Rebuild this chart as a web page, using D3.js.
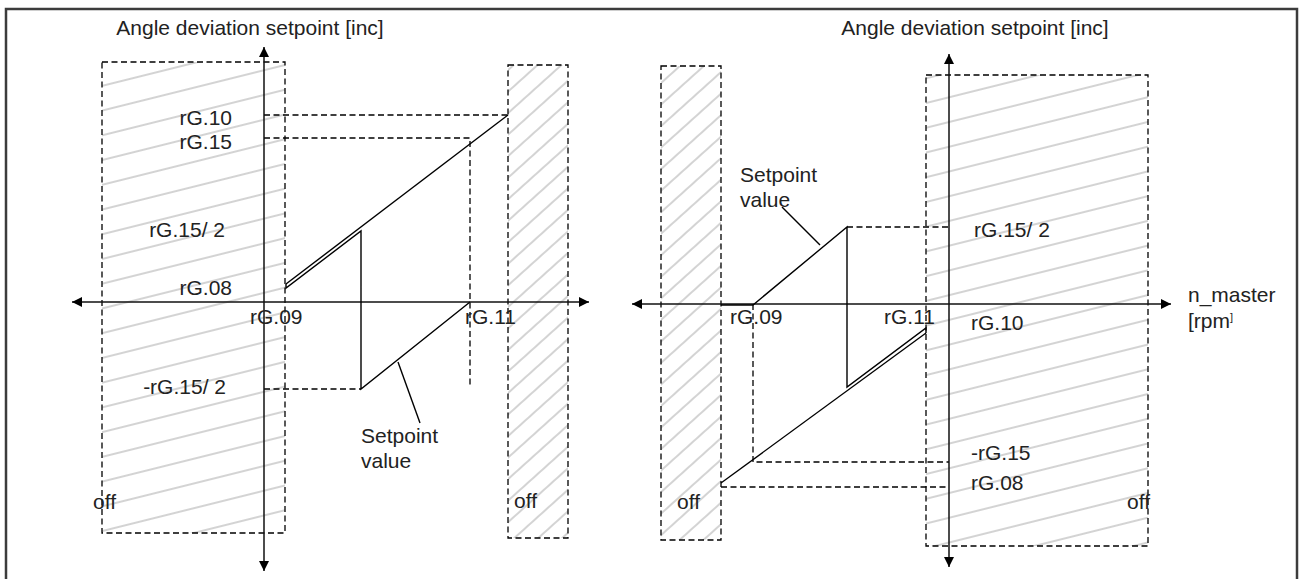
<!DOCTYPE html>
<html>
<head>
<meta charset="utf-8">
<script src="https://cdn.jsdelivr.net/npm/d3@7"></script>
<style>
  body { margin: 0; background: #fff; }
  svg text { font-family: "Liberation Sans", Arial, sans-serif; font-size: 21px; fill: #222; }
</style>
</head>
<body>
<svg id="chart" width="1301" height="579"></svg>
<script>
// all values in diagram units (1 unit ~ 10 px), measured from each panel's origin
const axisTitle = "Angle deviation setpoint [inc]";

// ---- left panel ----
const leftOrigin = [264, 302];
const leftAxisX = [-19.2, 32.5];
const leftAxisY = [-26.9, 25.5];
const leftOffZones = [
  { x: [-16.2, 2.1], y: [-23.1, 24.0], hatch: "flat" },
  { x: [24.4, 30.4], y: [-23.6, 23.7], hatch: "steep" }
];
const leftMainLine = [[2.2, 1.8], [24.4, 18.7]];
const leftSawLine = [[2.2, 1.8], [2.2, 1.4], [9.7, 7.1], [9.7, -8.7], [20.6, 0]];
const leftDashed = [
  [[0, 18.7], [24.4, 18.7]],
  [[0, 16.4], [20.6, 16.4], [20.6, -8.5]],
  [[0, -8.7], [9.7, -8.7]]
];
const leftLeader = [[13.4, -6.0], [15.6, -12.1]];
const leftLabels = [
  { t: "rG.10", x: -3.2, y: 17.7, a: "end" },
  { t: "rG.15", x: -3.2, y: 15.3, a: "end" },
  { t: "rG.15/ 2", x: -3.9, y: 6.5, a: "end" },
  { t: "rG.08", x: -3.2, y: 0.7, a: "end" },
  { t: "rG.09", x: -1.4, y: -2.2, a: "start" },
  { t: "rG.11", x: 20.1, y: -2.2, a: "start" },
  { t: "-rG.15/ 2", x: -3.8, y: -9.2, a: "end" },
  { t: "Setpoint", x: 9.7, y: -14.1, a: "start" },
  { t: "value", x: 9.7, y: -16.6, a: "start" },
  { t: "off", x: -17.1, y: -20.7, a: "start" },
  { t: "off", x: 25.0, y: -20.6, a: "start" },
  { t: axisTitle, x: -1.4, y: 26.7, a: "middle" }
];

// ---- right panel ----
const rightOrigin = [949, 304];
const rightAxisX = [-31.7, 22.2];
const rightAxisY = [-26.3, 25.0];
const rightOffZones = [
  { x: [-28.8, -22.8], y: [-23.6, 23.8], hatch: "steep" },
  { x: [-2.3, 19.9], y: [-24.2, 22.9], hatch: "flat" }
];
const rightMainLine = [[-22.8, -17.9], [-2.3, -2.9]];
const rightSawLine = [[-22.8, -0.1], [-19.6, -0.1], [-10.2, 7.7], [-10.2, -8.3], [-2.3, -2.4], [-2.3, -2.9]];
const rightDashed = [
  [[-10.2, 7.7], [0, 7.7]],
  [[-19.6, 0], [-19.6, -15.8], [0, -15.8]],
  [[-22.8, -18.3], [0, -18.3]]
];
const rightLeader = [[-16.7, 9.7], [-12.9, 5.9]];
const rightLabels = [
  { t: "rG.15/ 2", x: 2.5, y: 6.7, a: "start" },
  { t: "rG.09", x: -21.9, y: -2.0, a: "start" },
  { t: "rG.11", x: -6.5, y: -2.0, a: "start" },
  { t: "rG.10", x: 2.2, y: -2.6, a: "start" },
  { t: "-rG.15", x: 2.2, y: -15.6, a: "start" },
  { t: "rG.08", x: 2.2, y: -18.6, a: "start" },
  { t: "Setpoint", x: -20.9, y: 12.2, a: "start" },
  { t: "value", x: -20.9, y: 9.7, a: "start" },
  { t: "off", x: -27.2, y: -20.5, a: "start" },
  { t: "off", x: 20.1, y: -20.5, a: "end" },
  { t: "n_master", x: 23.9, y: 0.2, a: "start" },
  { t: axisTitle, x: 2.6, y: 26.9, a: "middle" }
];
const rpmLabel = { x: 23.9, y: -2.4 };

const svg = d3.select("#chart");
const defs = svg.append("defs");

// frame
svg.append("rect")
  .attr("x", 6).attr("y", 9)
  .attr("width", 1291).attr("height", 620)
  .attr("fill", "none")
  .attr("stroke", "#3c3c3c")
  .attr("stroke-width", 2.5);

// arrow head marker
defs.append("marker")
  .attr("id", "arrow")
  .attr("viewBox", "0 0 10 10")
  .attr("refX", 10).attr("refY", 5)
  .attr("markerWidth", 12).attr("markerHeight", 10)
  .attr("markerUnits", "userSpaceOnUse")
  .attr("orient", "auto-start-reverse")
  .append("path")
  .attr("d", "M0,0 L10,5 L0,10 Z")
  .attr("fill", "#000");

// hatch patterns
const hatches = { flat: { angle: -14, gap: 24 }, steep: { angle: -42, gap: 16 } };
Object.entries(hatches).forEach(([name, h]) => {
  const p = defs.append("pattern")
    .attr("id", "hatch-" + name)
    .attr("patternUnits", "userSpaceOnUse")
    .attr("width", 20).attr("height", h.gap)
    .attr("patternTransform", `rotate(${h.angle})`);
  p.append("line")
    .attr("x1", 0).attr("x2", 20)
    .attr("y1", h.gap / 2).attr("y2", h.gap / 2)
    .attr("stroke", "#a8a8a8")
    .attr("stroke-width", 1);
});

function drawPanel(origin, axX, axY, zones, mainLine, sawLine, dashed, leader, labels) {
  const x = d3.scaleLinear().domain([0, 10]).range([origin[0], origin[0] + 100]);
  const y = d3.scaleLinear().domain([0, 10]).range([origin[1], origin[1] - 100]);
  const line = d3.line().x(d => x(d[0])).y(d => y(d[1]));
  const g = svg.append("g");

  // off zones
  zones.forEach(z => {
    g.append("rect")
      .attr("x", x(z.x[0])).attr("y", y(z.y[1]))
      .attr("width", x(z.x[1]) - x(z.x[0]))
      .attr("height", y(z.y[0]) - y(z.y[1]))
      .attr("fill", `url(#hatch-${z.hatch})`)
      .attr("stroke", "#000")
      .attr("stroke-width", 1.3)
      .attr("stroke-dasharray", "6,3.5");
  });

  // helper dashed lines
  dashed.forEach(d => {
    g.append("path")
      .attr("d", line(d))
      .attr("fill", "none")
      .attr("stroke", "#000")
      .attr("stroke-width", 1.3)
      .attr("stroke-dasharray", "6,3.5");
  });

  // axes
  g.append("line")
    .attr("x1", x(axX[0])).attr("x2", x(axX[1]))
    .attr("y1", y(0)).attr("y2", y(0))
    .attr("stroke", "#111").attr("stroke-width", 1.5)
    .attr("marker-start", "url(#arrow)").attr("marker-end", "url(#arrow)");
  g.append("line")
    .attr("x1", x(0)).attr("x2", x(0))
    .attr("y1", y(axY[0])).attr("y2", y(axY[1]))
    .attr("stroke", "#111").attr("stroke-width", 1.5)
    .attr("marker-start", "url(#arrow)").attr("marker-end", "url(#arrow)");

  // setpoint curves
  [mainLine, sawLine, leader].forEach(d => {
    g.append("path")
      .attr("d", line(d))
      .attr("fill", "none")
      .attr("stroke", "#000")
      .attr("stroke-width", 1.4);
  });

  // labels
  g.selectAll("text.lbl")
    .data(labels)
    .enter()
    .append("text")
    .attr("class", "lbl")
    .attr("x", d => x(d.x))
    .attr("y", d => y(d.y))
    .attr("text-anchor", d => d.a)
    .text(d => d.t);

  return { x, y };
}

drawPanel(leftOrigin, leftAxisX, leftAxisY, leftOffZones, leftMainLine, leftSawLine, leftDashed, leftLeader, leftLabels);
const right = drawPanel(rightOrigin, rightAxisX, rightAxisY, rightOffZones, rightMainLine, rightSawLine, rightDashed, rightLeader, rightLabels);

// [rpm] with the small raised bracket
const rpm = svg.append("text")
  .attr("x", right.x(rpmLabel.x))
  .attr("y", right.y(rpmLabel.y));
rpm.append("tspan").text("[rpm");
rpm.append("tspan").attr("dy", -7).style("font-size", "11px").text("]");
</script>
</body>
</html>
